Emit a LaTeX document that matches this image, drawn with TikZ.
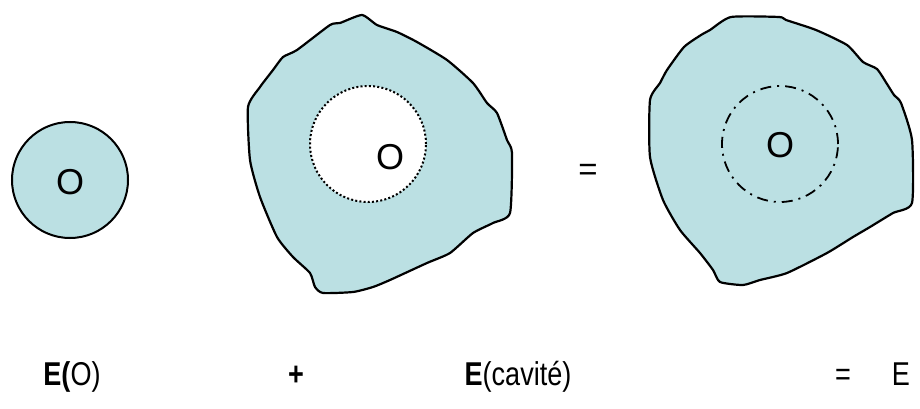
\documentclass[tikz,border=0pt]{standalone}
\usepackage{graphicx}
\usepackage{fontspec}
\setmainfont{Liberation Sans}
\definecolor{fillblue}{RGB}{187,224,227}
\newcommand{\narrowtxt}[1]{\scalebox{0.82}[1]{#1}}
\begin{document}
\begin{tikzpicture}[x=1pt,y=-1pt,
  blob/.style={draw=black,line width=2.2pt,fill=fillblue,line join=round},
  circlbl/.style={font=\fontsize{36}{40}\selectfont,inner sep=0pt},
  eqlbl/.style={font=\fontsize{33}{37}\selectfont,inner sep=0pt,anchor=base}]
\useasboundingbox (0,0) rectangle (920,409);
% small sphere
\node[circle,draw=black,line width=2pt,fill=fillblue,minimum size=116pt,inner sep=0pt] (s) at (70,180) {};
\node[circlbl] (sO) at (70,182) {O};
% middle blob with cavity
\draw[blob] plot[smooth cycle,tension=0.35] coordinates {(362,15) (377,25) (397,32) (417,42) (447,60) (473,83) (487,103) (497,113) (507,140) (512,153) (510,213) (493,223) (473,233) (450,253) (427,263) (390,280) (373,287) (353,292) (323,293) (315,287) (310,273) (293,257) (277,237) (260,197) (250,160) (248,107) (260,87) (273,70) (283,57) (297,50) (330,25) (340,23)};
\node[circle,draw=black,line width=2pt,dash pattern=on 2pt off 2.2pt,fill=white,minimum size=116pt,inner sep=0pt] (cav) at (368,144) {};
\node[circlbl] (cO) at (390,157) {O};
% equals between pictures
\node[eqlbl,anchor=center] (eq1) at (588,172) {=};
% right blob
\draw[blob] plot[smooth cycle,tension=0.35] coordinates {(731,17) (779,17) (786,20) (816,30) (847,45) (863,62) (877,69) (887,84) (894,95) (901,103) (912,140) (912,203) (893,213) (870,227) (853,237) (827,253) (787,273) (760,280) (743,285) (720,282) (713,270) (700,253) (680,230) (663,200) (650,157) (650,100) (660,83) (667,70) (684,47) (701,35) (710,30)};
\node[circle,draw=black,line width=1.8pt,dash pattern=on 11pt off 6pt on 2pt off 6pt,minimum size=116pt,inner sep=0pt] (dd) at (780,144) {};
\node[circlbl] (rO) at (780,145) {O};
% bottom equation
\node[eqlbl] (t1) at (72,385) {\narrowtxt{\textbf{E(}O)}};
\node[eqlbl] (t2) at (296,385) {\narrowtxt{\textbf{+}}};
\node[eqlbl] (t3) at (518,385) {\narrowtxt{\textbf{E}(cavité)}};
\node[eqlbl] (t4) at (843,385) {\narrowtxt{=}};
\node[eqlbl] (t5) at (901,385) {\narrowtxt{E}};
\end{tikzpicture}
\end{document}
